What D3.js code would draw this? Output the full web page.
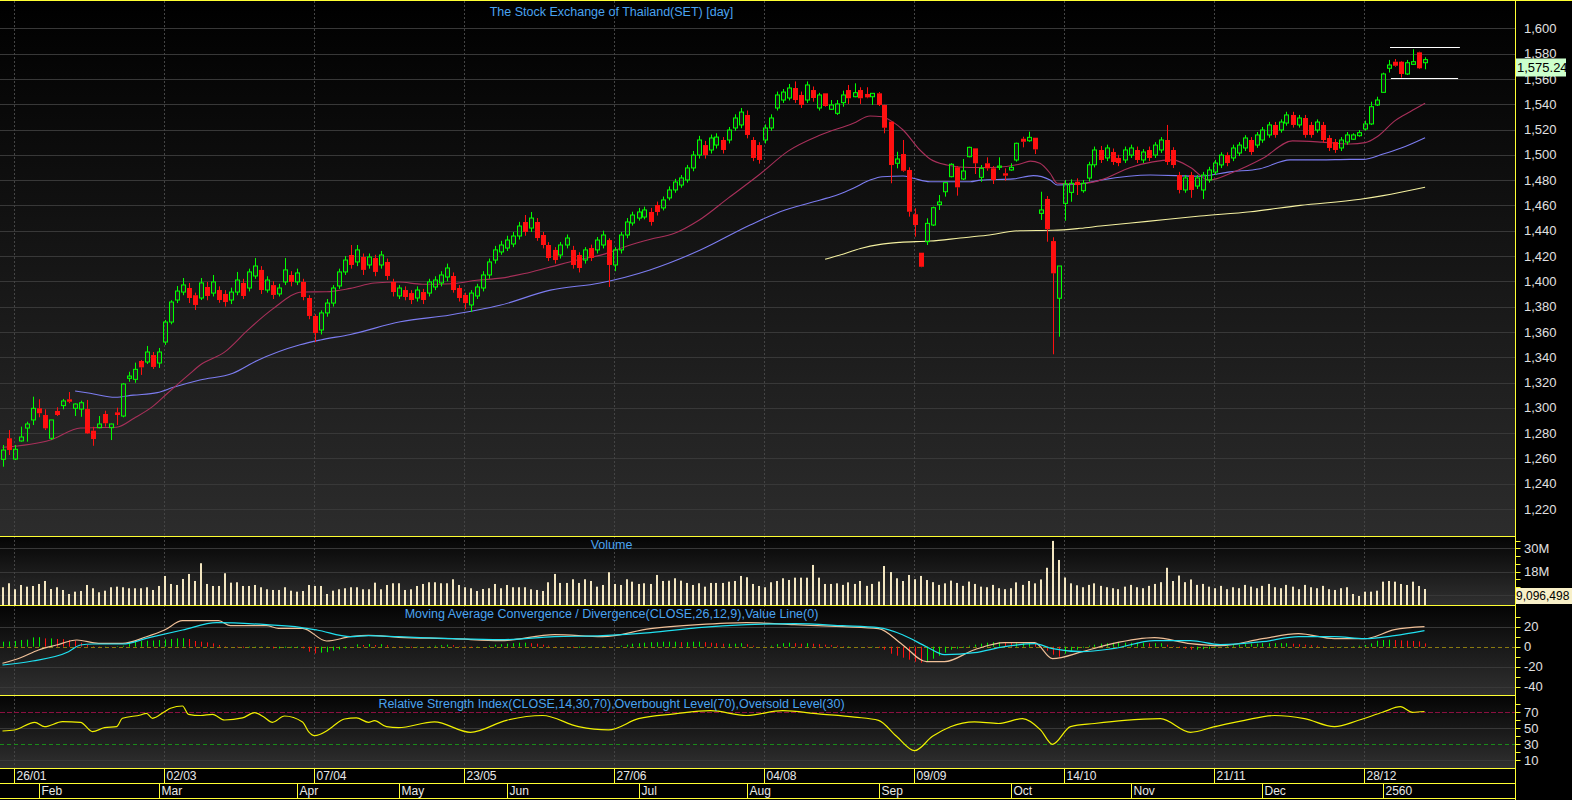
<!DOCTYPE html>
<html><head><meta charset="utf-8">
<script src="https://cdn.jsdelivr.net/npm/d3@7/dist/d3.min.js"></script>
<style>
html,body{margin:0;padding:0;background:#000;overflow:hidden}
svg{display:block}
</style></head><body>
<svg id="chart" width="1572" height="800"></svg>
<script>
// ---------------- DATA ----------------
const dayTickIdx = [2,27,52,77,102,127,152,177,202,227];
const dayTickLabels = ["26/01","02/03","07/04","23/05","27/06","04/08","09/09","14/10","21/11","28/12"];
const monthIdx = [6,26,49,66,84,106,124,146,168,188,210,230];
const monthLabels = ["Feb","Mar","Apr","May","Jun","Jul","Aug","Sep","Oct","Nov","Dec","2560"];
const priceTicks = [1220,1240,1260,1280,1300,1320,1340,1360,1380,1400,1420,1440,1460,1480,1500,1520,1540,1560,1580,1600];
const volTicks = [30,18];
const macdTicks = [20,0,-20,-40];
const rsiTicks = [70,50,30,10];

// daily OHLC (one row per trading day: open, high, low, close)
const ohlc = [
[1259.3,1270.6,1253.4,1266.6],[1275.9,1282.4,1262.7,1266.6],[1259.5,1270.6,1258.7,1267.2],[1273.8,1285.1,1273.2,1276.9],
[1284.0,1289.0,1273.2,1287.2],[1290.4,1308.8,1286.4,1299.6],[1299.6,1306.7,1292.5,1295.7],[1294.3,1298.8,1282.4,1283.8],
[1275.9,1290.4,1274.5,1290.4],[1297.5,1300.4,1293.5,1294.3],[1301.7,1307.0,1298.8,1305.4],[1306.7,1312.5,1303.6,1304.8],
[1299.6,1303.5,1293.5,1303.0],[1299.0,1305.6,1292.9,1304.0],[1299.0,1306.2,1279.3,1279.8],[1281.9,1285.0,1270.0,1275.3],
[1284.3,1293.5,1283.8,1287.2],[1295.1,1297.7,1285.1,1287.8],[1284.3,1287.5,1274.5,1287.2],[1296.4,1300.1,1286.4,1294.3],
[1293.5,1319.6,1292.5,1318.8],[1323.3,1328.5,1320.6,1325.1],[1322.5,1335.7,1319.8,1330.4],[1337.0,1337.8,1326.0,1332.0],
[1336.2,1348.9,1334.6,1344.1],[1341.7,1344.1,1330.7,1332.3],[1335.4,1347.3,1331.5,1344.1],[1352.0,1369.4,1349.7,1367.8],
[1367.8,1385.0,1366.0,1383.6],[1385.2,1396.3,1382.8,1392.3],[1391.5,1402.6,1389.0,1397.1],[1394.7,1398.7,1382.8,1386.8],
[1389.0,1391.0,1377.3,1381.3],[1386.8,1402.6,1385.2,1398.7],[1395.5,1399.5,1385.0,1388.4],[1390.7,1405.0,1388.0,1399.5],
[1393.1,1396.0,1383.0,1385.2],[1390.0,1393.0,1380.0,1383.6],[1385.2,1395.0,1382.0,1391.5],[1391.5,1407.4,1389.0,1401.0],
[1398.7,1402.0,1386.0,1388.4],[1394.7,1410.0,1392.0,1407.4],[1404.2,1418.4,1402.0,1412.1],[1409.0,1412.0,1390.0,1393.1],
[1393.1,1404.0,1391.0,1401.0],[1397.0,1400.0,1386.0,1389.2],[1390.0,1398.0,1388.0,1394.7],[1399.5,1418.4,1397.0,1409.0],
[1405.0,1408.0,1396.0,1399.5],[1399.5,1410.0,1397.0,1406.6],[1399.5,1402.0,1385.0,1387.6],[1386.8,1389.0,1370.0,1372.6],
[1372.6,1374.0,1352.0,1359.1],[1361.5,1377.0,1358.0,1375.0],[1375.0,1386.0,1372.0,1382.8],[1382.8,1397.0,1380.0,1394.7],
[1396.3,1410.0,1394.0,1407.4],[1407.4,1420.0,1405.0,1416.8],[1420.8,1428.7,1410.0,1412.9],[1415.3,1428.7,1412.0,1424.8],
[1419.2,1422.0,1405.0,1409.0],[1412.9,1422.0,1410.0,1419.2],[1418.4,1421.0,1404.0,1407.4],[1412.9,1424.0,1410.0,1420.8],
[1415.3,1418.0,1401.0,1404.2],[1399.5,1402.0,1388.0,1391.5],[1388.4,1397.0,1386.0,1394.7],[1393.1,1396.0,1385.0,1387.6],
[1390.7,1393.0,1382.0,1385.2],[1386.8,1396.0,1384.0,1393.1],[1391.5,1394.0,1382.0,1385.2],[1390.7,1402.0,1388.0,1399.5],
[1395.5,1404.0,1393.0,1401.0],[1398.7,1408.0,1396.0,1405.0],[1403.4,1414.0,1400.0,1410.5],[1404.2,1407.0,1391.0,1393.1],
[1394.7,1397.0,1384.0,1386.8],[1389.2,1391.0,1378.0,1382.8],[1381.3,1393.0,1375.7,1390.7],[1388.4,1398.0,1386.0,1395.5],
[1394.7,1408.0,1392.0,1405.0],[1405.0,1418.0,1402.0,1415.3],[1416.8,1428.0,1414.0,1424.8],[1423.2,1432.0,1421.0,1428.7],
[1426.3,1436.0,1424.0,1432.6],[1429.5,1439.0,1427.0,1435.8],[1435.8,1447.0,1433.0,1443.7],[1446.9,1452.4,1436.0,1439.0],
[1442.1,1454.8,1439.0,1450.0],[1446.9,1450.0,1432.0,1434.2],[1436.6,1439.0,1426.0,1428.7],[1428.7,1431.0,1416.0,1418.4],
[1424.8,1427.0,1414.0,1416.8],[1420.8,1431.0,1418.0,1428.7],[1428.7,1437.0,1426.0,1434.2],[1424.8,1428.0,1410.0,1412.9],
[1420.8,1423.0,1407.0,1410.5],[1416.8,1427.0,1414.0,1424.8],[1426.3,1429.0,1416.0,1418.4],[1424.8,1435.0,1422.0,1432.6],
[1428.7,1440.0,1426.0,1436.6],[1432.6,1434.0,1395.5,1412.9],[1412.9,1427.0,1408.0,1424.8],[1424.8,1439.0,1422.0,1436.6],
[1436.6,1450.0,1434.0,1446.9],[1446.1,1455.0,1444.0,1452.4],[1450.0,1458.0,1448.0,1454.8],[1450.8,1459.0,1449.0,1456.4],
[1454.8,1458.0,1444.0,1446.9],[1460.3,1463.0,1452.0,1454.8],[1458.0,1467.0,1456.0,1464.3],[1465.9,1475.0,1464.0,1472.2],
[1472.2,1481.0,1470.0,1478.5],[1476.1,1484.0,1474.0,1481.7],[1480.1,1492.0,1478.0,1489.6],[1489.6,1503.0,1487.0,1499.8],
[1499.8,1515.0,1497.0,1511.7],[1507.7,1511.0,1497.0,1499.8],[1503.8,1516.0,1501.0,1513.3],[1507.7,1517.0,1505.0,1514.0],
[1511.7,1514.0,1501.0,1503.8],[1511.7,1522.0,1509.0,1519.6],[1521.2,1532.0,1519.0,1529.1],[1523.6,1537.0,1521.0,1533.8],
[1531.5,1535.0,1513.0,1515.7],[1511.7,1514.0,1495.0,1497.5],[1507.7,1510.0,1493.0,1495.9],[1511.7,1524.0,1509.0,1521.2],
[1521.2,1532.0,1519.0,1529.1],[1537.0,1550.0,1535.0,1547.3],[1543.3,1552.0,1541.0,1549.6],[1544.9,1556.0,1543.0,1552.8],
[1552.8,1558.0,1541.0,1543.3],[1547.3,1550.0,1537.0,1539.4],[1543.3,1558.0,1541.0,1555.2],[1551.2,1554.0,1542.0,1544.9],
[1537.0,1549.0,1535.0,1547.3],[1548.6,1548.6,1538.0,1538.6],[1536.0,1543.3,1535.4,1539.4],[1532.8,1543.3,1531.5,1540.2],
[1541.2,1550.7,1538.0,1547.3],[1551.2,1555.2,1540.2,1544.7],[1545.9,1556.5,1545.5,1549.1],[1551.2,1553.4,1540.2,1544.7],
[1548.1,1553.4,1544.7,1545.4],[1545.9,1548.8,1539.4,1548.6],[1548.6,1549.6,1538.6,1539.4],[1539.4,1539.6,1517.0,1521.4],
[1526.2,1526.4,1477.5,1491.9],[1493.3,1502.4,1489.3,1496.7],[1500.6,1511.7,1486.6,1487.4],[1488.0,1490.1,1451.1,1455.0],
[1453.0,1457.7,1435.3,1444.5],[1422.6,1422.6,1411.1,1411.5],[1431.3,1449.8,1428.7,1445.8],[1444.5,1459.0,1443.7,1458.2],
[1460.6,1468.2,1456.4,1462.7],[1470.8,1478.2,1466.9,1478.0],[1482.7,1493.3,1482.2,1492.5],[1490.1,1491.1,1467.7,1474.3],
[1480.9,1496.7,1480.1,1487.2],[1498.5,1506.4,1498.0,1505.9],[1505.1,1505.1,1484.8,1493.3],[1482.2,1491.9,1478.7,1489.3],
[1493.3,1498.0,1487.4,1489.3],[1489.3,1491.1,1476.9,1480.1],[1490.1,1498.0,1488.0,1491.1],[1485.4,1489.3,1479.5,1483.5],
[1488.0,1493.3,1487.4,1490.1],[1495.9,1509.6,1494.6,1509.1],[1512.7,1514.3,1505.9,1510.3],[1511.1,1518.3,1510.3,1513.8],
[1513.5,1513.5,1500.6,1504.3],[1453.7,1470.8,1448.5,1456.4],[1465.1,1467.4,1431.3,1441.3],[1431.8,1434.8,1342.3,1406.3],
[1386.6,1412.1,1356.2,1412.1],[1461.6,1480.1,1447.9,1476.9],[1470.3,1480.6,1462.9,1477.5],[1478.7,1481.4,1468.2,1476.1],
[1471.6,1480.1,1470.0,1477.5],[1481.6,1494.5,1479.0,1492.1],[1492.1,1506.5,1490.0,1503.8],[1503.8,1507.0,1493.5,1495.9],
[1497.5,1508.0,1495.0,1505.4],[1502.2,1505.0,1492.0,1494.3],[1497.5,1500.0,1491.0,1493.5],[1495.9,1506.5,1493.5,1503.8],
[1499.8,1508.0,1497.5,1505.4],[1503.8,1506.5,1493.5,1495.9],[1495.9,1504.5,1493.5,1502.2],[1503.8,1506.5,1495.0,1497.5],
[1499.8,1510.0,1497.5,1507.7],[1503.8,1514.0,1501.5,1511.7],[1511.7,1523.6,1492.0,1494.3],[1503.8,1506.0,1489.5,1491.9],
[1484.0,1486.5,1469.5,1472.2],[1472.2,1484.0,1470.0,1481.7],[1484.0,1486.5,1466.0,1472.2],[1475.3,1484.0,1473.0,1481.7],
[1472.2,1486.5,1465.0,1484.0],[1480.1,1490.5,1478.0,1488.0],[1486.4,1496.0,1484.0,1493.5],[1492.0,1502.0,1489.5,1499.8],
[1499.8,1502.0,1491.0,1493.5],[1497.5,1508.0,1495.0,1505.4],[1501.4,1510.0,1499.0,1507.7],[1505.4,1515.5,1503.0,1513.3],
[1511.7,1514.0,1500.0,1502.2],[1507.7,1518.0,1505.5,1515.7],[1511.7,1522.0,1509.5,1519.6],[1515.7,1526.0,1513.5,1523.6],
[1523.6,1526.0,1513.5,1515.7],[1519.6,1528.0,1517.5,1525.9],[1525.1,1534.0,1523.0,1531.5],[1531.5,1534.0,1521.5,1523.6],
[1523.6,1531.5,1521.5,1529.1],[1529.1,1531.5,1513.5,1515.7],[1523.6,1526.0,1513.5,1515.7],[1519.6,1528.0,1517.5,1525.9],
[1523.6,1526.0,1509.5,1511.7],[1513.3,1515.5,1503.0,1505.4],[1510.1,1512.5,1501.5,1503.8],[1505.4,1514.0,1503.0,1511.7],
[1510.1,1518.0,1508.0,1515.7],[1512.3,1517.0,1511.7,1515.7],[1515.1,1519.6,1514.3,1517.5],[1520.4,1527.0,1519.1,1524.4],
[1524.4,1542.0,1523.6,1538.0],[1539.4,1545.9,1538.6,1543.3],[1549.4,1564.9,1549.1,1563.9],[1568.4,1575.0,1565.0,1571.0],
[1573.6,1575.7,1569.6,1570.4],[1573.6,1574.2,1561.0,1563.9],[1563.9,1575.0,1563.1,1572.8],[1571.5,1583.4,1571.0,1573.6],
[1581.0,1581.5,1567.8,1568.4],[1572.8,1577.1,1567.6,1575.24]
];

// volume, millions of shares
const volumes = [
9.98,12.04,8.95,11.16,10.29,10.65,11.68,13.22,9.1,9.98,8.59,6.53,7.72,8.08,11.16,9.47,7.41,8.23,9.98,10.29,
9.98,9.47,9.47,9.47,9.98,8.59,10.65,15.79,11.68,11.16,14.25,16.82,13.22,22.33,11.68,10.65,10.65,17.18,12.35,12.55,
10.65,10.65,11.16,9.98,8.95,8.59,8.59,9.98,8.23,7.72,8.08,11.16,10.65,10.65,6.53,8.23,8.95,9.47,9.98,9.98,
8.95,8.95,12.35,8.95,11.16,12.04,12.04,
8.59,8.95,10.65,11.68,12.55,12.55,12.04,12.04,14.09,11.16,9.98,9.47,8.08,9.1,9.47,11.68,9.47,11.16,9.98,9.98,
9.98,8.95,8.59,8.08,12.55,16.82,12.2,12.2,14.09,12.2,14.09,13.22,10.29,11.16,17.7,11.68,11.16,14.09,12.86,11.68,
12.04,11.68,16.31,13.22,13.37,14.6,13.37,12.2,11.16,12.04,10.29,12.2,12.2,12.2,12.86,13.22,15.79,15.12,11.68,10.65,
9.98,12.55,13.22,14.6,13.73,14.92,14.92,14.92,21.45,14.92,11.68,11.68,
12.0,11.2,12.5,11.7,13.2,10.7,11.7,12.9,20.9,17.8,14.6,13.2,16.3,14.1,15.8,13.7,12.6,11.2,12.0,13.4,
12.2,10.7,12.9,11.7,10.3,10.0,11.2,9.5,9.0,9.5,12.5,11.2,13.2,12.0,14.0,20.0,33.8,24.0,15.0,12.0,
11.0,10.0,11.2,12.0,10.7,10.0,9.5,9.0,10.3,11.2,10.0,9.5,10.7,11.7,12.6,20.0,13.2,16.0,12.6,14.0,
11.2,11.7,10.3,9.5,10.7,9.0,10.0,9.5,11.2,10.3,9.5,10.7,11.7,10.0,9.5,11.2,10.3,9.0,11.2,10.0,
9.5,10.7,9.0,8.6,9.5,10.0,
6.53,5.5,7.72,7.72,8.23,12.86,13.22,12.86,11.68,11.16,12.86,10.65,9.096
];
const lastPrice = 1575.24;
const lastVolume = "9,096,498";

// moving averages: [day index, value]
const ma25 = [[0,1268.8],[8,1274.6],[13,1284],[16,1284.3],[19,1284.6],[22,1292],[25,1300.9],[27.5,1311.5],[31,1326],[33,1334],[37,1344],[41,1362],[45,1378],[50,1391.6],[54,1391.7],[58,1394.4],[62,1398.6],[66,1399.4],[70,1397.7],[75,1398.1],[79,1400.8],[83,1402.5],[87,1406.1],[91,1410.9],[96,1417],[100,1421.1],[104,1427.7],[108,1433.2],[112,1437.9],[116,1448],[121,1465.9],[126,1483.8],[131,1503.1],[136.3,1515.6],[141.8,1524.9],[144.6,1530.7],[146.6,1530.1],[148.3,1526.2],[150.1,1519.6],[152.9,1503.8],[154.6,1496.7],[157.4,1492],[161.3,1490],[165.1,1490],[169.6,1492.7],[171.3,1495],[172.9,1493.3],[174.6,1485.4],[175.8,1477.5],[179.6,1477],[183,1480],[188,1490],[195,1496],[198,1490],[201,1480],[205,1486],[210,1497],[215,1511],[220,1510],[224.6,1508.5],[227.1,1509.6],[229.1,1514.3],[232.1,1527],[234.6,1534],[237.1,1540.7]];
const ma75 = [[12.1,1313.3],[14.6,1311.5],[18.8,1308.3],[21.8,1310],[25.8,1312],[28.5,1316.2],[32.9,1322],[38.4,1327.3],[42.4,1337.2],[49.6,1349.8],[53,1353.6],[58,1358],[66.3,1368],[74.6,1373.4],[82.9,1381],[91.3,1393],[99.6,1398.7],[107.9,1409],[116.3,1424.7],[124.6,1444.5],[129.6,1455],[136.3,1464.3],[139.1,1468.2],[141.8,1473.5],[144.6,1480],[146.6,1482.7],[150.1,1483.2],[151.8,1481.4],[154.6,1478.7],[161.3,1478.7],[163,1480],[168.5,1481],[171.8,1483.5],[174.6,1480],[175.8,1476.1],[179.6,1477],[183,1480],[191.3,1484],[199.6,1483],[204.6,1486.5],[209.6,1489],[214.6,1496],[219.6,1496],[224.6,1496.4],[226.8,1496.4],[230.1,1500.6],[233,1505.1],[237.1,1513.5]];
const ma200 = [[137.1,1417.4],[139.6,1420.8],[143,1426],[146.3,1429.2],[149.6,1430.8],[154.6,1431.8],[159.6,1434.2],[164.1,1436.4],[169.6,1440],[175.1,1440.3],[179.6,1441.9],[183,1443.7],[190.8,1447.4],[199.6,1451.6],[208,1455],[216.3,1460],[226.3,1464.8],[230.1,1467.7],[237.1,1474.3]];

const macdLine = [[0,-16.6],[3,-11],[6,-3.3],[9,1.7],[12.4,6.7],[16,3.4],[20,3.4],[24,10],[27,16.7],[30,26],[36,26],[38,21],[44,21],[46,18.4],[50,18.4],[54,5.7],[58,10],[61,11.4],[66,9.4],[75,8],[83,6],[92,12],[100,10],[108,18],[116,22],[124,24],[132,22],[140,20],[146,18],[150,2],[154,-15],[157,-15],[162,-3],[167,4],[172,4],[175,-12],[180,-5],[185,3],[192,9],[198,3],[203,1],[210,8],[216,13],[222,8],[227,8],[232,17],[237,20]];
const signalLine = [[0,-18.3],[5,-14.3],[11,-5],[13,1.7],[15,2.7],[20,2.7],[24.6,9.4],[30,16.7],[35.7,24],[44,22],[49.6,19.4],[52.4,16.7],[58,10],[61,11],[66,10],[75,8],[83,7],[92,10],[100,11],[108,14],[116,19],[124,22],[132,23],[140,21],[146,19],[150,12],[154,0],[157,-8],[162,-6],[167,0],[172,3],[175,-2],[180,-5],[185,-2],[192,6],[198,6],[203,2],[210,5],[216,10],[222,10],[227,8],[232,11],[237,16]];
const macdHist = [
5,5.2,5.7,6.7,7,9.3,9.5, 8.3,8.3,7.7,7.5,6.7,5.7,4,1.7, 0.5,0.3,0.3,0.2,0.5,1,
3.3,5,5.7,6,6.2,6.7,7.3,7.7,8.3,8.5, 7.7,5.7,5,4.3,3.3,1.7, 0.5,0, -0.7,-1,-0.7, -0.5,-0.3,-0.2,
-1.7,-1.7,-1,-1,-1, -1.7,-5,-6.7,-6,-5.5, -4,-2.7,-1.7, 0,2.3, 1.7,2.7,1.7,2.5,1.5,0.3,-0.5,
-0.5,-1,-0.5,0,0.5,1,1.5,2,1.5, 0.5,-0.5,-1,-0.5,0,1,2, 2.5,3,3.5,4,4,3.5,3,2,1,0.5,
0,-0.5,-1,-1,-0.5,-0.5,0,0.5,-0.5, 0,1,2,3,3.5,4,4.5,4.5,5,5,5,4.5,4.5,5,
5,4.5,4,3.5,3,3,3,3.5,2.5,1,0, 0,1,2.5,3.5,4,3.5,3,3.5,3, 2.5,2,1.5,1,0.5,0.5,0,0,-0.5,-0.5,-1,
-3,-7,-9,-11,-13,-15,-16, -15,-12,-9,-6,-3,-2,-1, 1,2,3,4,4.5,4.5,4,3.5, 3.5,3.5,3.5,3,
-1,-4,-8,-10, -7,-5,-3,-1,1,2, 3,3.5,4,4,4,4,4,4,3.5,3.5,3.5, 2,0.5,-1,-2,-3,-3,-2.5,-2,
-1,0,1,1.5,2,2.5,3,3,3.5,3.5,3.5,3.5,3.5, 3,2.5,2,1.5,1,0.5,0,-0.5,-0.5,0,
0.5,1,1.7,3.3,6,6.7,7,6.7,6.3,6,5.7,5.3,3.3
];
const rsiLine = [[0,46.6],[2,47.9],[5.4,57.5],[7,52],[10,58.3],[13,57.5],[15,45.8],[17,50.8],[19,52],[20,62.5],[23,66.6],[24,68.7],[25,62.5],[27,70.8],[28,75],[30,77.9],[31,67.5],[33,66],[35,67.5],[37,60.4],[40,63],[42,69.5],[43.5,64.5],[45,57.5],[47,65.4],[50,58],[51,45.8],[52,40.8],[54,46.6],[55,52],[57,61.6],[59,63],[61,57.5],[62,59.6],[64,52],[66,50.8],[72,58],[78,45],[84,60],[90,66],[96,52],[101,48],[106,62],[112,68],[118,72],[124,66],[130,72],[136,68],[142,64],[146,60],[149,40],[152,22],[155,40],[158,52],[162,58],[166,56],[170,62],[173,48],[175,30],[178,52],[182,56],[187,60],[193,62],[198,45],[202,52],[207,60],[212,66],[217,62],[222,52],[226,60],[230,70],[233,77],[235,70],[237,71]];
const resistLine = [[231.25,1585],[242.9,1585]];
const supportLine = [[231.4,1560.5],[242.6,1560.5]];

// ---------------- LAYOUT ----------------
const PR = 1515.5;
const P = {main:[1,536], vol:[536,605], macd:[605,695], rsi:[695,768]};
const YEL = "#ffff33", BLUE = "#4aa3f0", GRID = "#383838";
const FONT = "'Liberation Sans', Arial, sans-serif";

const svg = d3.select('#chart');
const defs = svg.append('defs');
function grad(id, c0, c1){
  const g = defs.append('linearGradient').attr('id',id).attr('x1',0).attr('y1',0).attr('x2',0).attr('y2',1);
  g.append('stop').attr('offset','0%').attr('stop-color',c0);
  g.append('stop').attr('offset','100%').attr('stop-color',c1);
}
grad('gMain','#000000','#2c2c2c');
grad('gSub','#040404','#303030');
Object.entries(P).forEach(([k,[t,b]])=>{
  defs.append('clipPath').attr('id','clip_'+k).append('rect').attr('x',0).attr('y',t).attr('width',PR).attr('height',b-t);
});

const x = d3.scaleLinear().domain([0,237]).range([2.5, 2.5+6*237]);
const yP = d3.scaleLinear().domain([1220,1600]).range([509,28.3]);
const yV = d3.scaleLinear().domain([0,30]).range([606.7,548.3]);
const yM = d3.scaleLinear().domain([-40,20]).range([686.7,626.7]);
const yR = d3.scaleLinear().domain([10,70]).range([760.3,712.3]);
const px = v => Math.round(v)+0.5;

// backgrounds
svg.append('rect').attr('x',0).attr('y',0).attr('width',1572).attr('height',800).attr('fill','#000');
svg.append('rect').attr('x',0).attr('y',P.main[0]).attr('width',PR).attr('height',P.main[1]-P.main[0]).attr('fill','url(#gMain)');
['vol','macd','rsi'].forEach(k=>{
  svg.append('rect').attr('x',0).attr('y',P[k][0]).attr('width',PR).attr('height',P[k][1]-P[k][0]).attr('fill','url(#gSub)');
});

// grid
const grid = svg.append('g');
priceTicks.forEach(t=>grid.append('line').attr('x1',0).attr('x2',PR).attr('y1',px(yP(t))).attr('y2',px(yP(t))).attr('stroke',GRID));
[6,18,30].forEach(t=>grid.append('line').attr('x1',0).attr('x2',PR).attr('y1',px(yV(t))).attr('y2',px(yV(t))).attr('stroke',GRID));
[20,-20,-40].forEach(t=>grid.append('line').attr('x1',0).attr('x2',PR).attr('y1',px(yM(t))).attr('y2',px(yM(t))).attr('stroke',GRID));
[50,10].forEach(t=>grid.append('line').attr('x1',0).attr('x2',PR).attr('y1',px(yR(t))).attr('y2',px(yR(t))).attr('stroke',GRID));
Object.values(P).forEach(([t,b])=>{
  dayTickIdx.forEach(i=>grid.append('line').attr('x1',px(x(i))-1).attr('x2',px(x(i))-1).attr('y1',t).attr('y2',b)
    .attr('stroke','#444').attr('stroke-dasharray','2,2'));
});
// reference lines
svg.append('line').attr('x1',0).attr('x2',PR).attr('y1',px(yM(0))).attr('y2',px(yM(0))).attr('stroke','#8a7a10').attr('stroke-dasharray','4,3');
svg.append('line').attr('x1',0).attr('x2',PR).attr('y1',px(yR(70))).attr('y2',px(yR(70))).attr('stroke','#8a1040').attr('stroke-dasharray','5,2');
svg.append('line').attr('x1',0).attr('x2',PR).attr('y1',px(yR(30))).attr('y2',px(yR(30))).attr('stroke','#1a8a1a').attr('stroke-dasharray','4,3');

// ---------- main panel ----------
const gm = svg.append('g').attr('clip-path','url(#clip_main)');
const lineGen = (ys) => d3.line().x(d=>x(d[0])).y(d=>ys(d[1])).curve(d3.curveMonotoneX);
gm.append('path').datum(ma200).attr('d',lineGen(yP)).attr('fill','none').attr('stroke','#f4f0a0').attr('stroke-width',1.1);
gm.append('path').datum(ma75).attr('d',lineGen(yP)).attr('fill','none').attr('stroke','#7c7cf0').attr('stroke-width',1.1);
gm.append('path').datum(ma25).attr('d',lineGen(yP)).attr('fill','none').attr('stroke','#a8305a').attr('stroke-width',1.1);

const candles = ohlc.map((r,i)=>({i,o:r[0],h:r[1],l:r[2],c:r[3]}));
gm.selectAll('g.c').data(candles).join('g').attr('class','c').each(function(d){
  const g = d3.select(this);
  const up = d.c >= d.o;
  const col = up ? '#00ff00' : '#ff1010';
  const cx = px(x(d.i));
  const top = yP(Math.max(d.o,d.c)), bot = yP(Math.min(d.o,d.c));
  g.append('line').attr('x1',cx).attr('x2',cx).attr('y1',yP(d.h)).attr('y2',top).attr('stroke',col);
  g.append('line').attr('x1',cx).attr('x2',cx).attr('y1',bot).attr('y2',yP(d.l)).attr('stroke',col);
  const h = Math.max(1,bot-top);
  if(up){
    g.append('rect').attr('x',cx-2).attr('y',top).attr('width',4).attr('height',h).attr('fill','#3a3a3a').attr('fill-opacity',0.35).attr('stroke',col);
  } else {
    g.append('rect').attr('x',cx-2.5).attr('y',top).attr('width',5).attr('height',h).attr('fill',col);
  }
});
[resistLine,supportLine].forEach(l=>gm.append('line').attr('x1',x(l[0][0])).attr('x2',x(l[1][0])).attr('y1',px(yP(l[0][1]))).attr('y2',px(yP(l[1][1]))).attr('stroke','#fff'));

// ---------- volume ----------
const gv = svg.append('g').attr('clip-path','url(#clip_vol)');
gv.selectAll('rect').data(volumes).join('rect')
  .attr('x',(d,i)=>Math.round(x(i))-1).attr('width',2)
  .attr('y',d=>yV(d)).attr('height',d=>yV(0)-yV(d)).attr('fill','#f3e6c0');

// ---------- MACD ----------
const gmc = svg.append('g').attr('clip-path','url(#clip_macd)');
gmc.selectAll('line.h').data(macdHist).join('line').attr('class','h')
  .attr('x1',(d,i)=>px(x(i))).attr('x2',(d,i)=>px(x(i)))
  .attr('y1',yM(0)).attr('y2',d=>yM(d))
  .attr('stroke',(d,i)=> (i===0 || d>=macdHist[i-1]) ? '#00ee00' : '#ff1010');
gmc.append('path').datum(macdLine).attr('d',lineGen(yM)).attr('fill','none').attr('stroke','#f0c098').attr('stroke-width',1.2);
gmc.append('path').datum(signalLine).attr('d',lineGen(yM)).attr('fill','none').attr('stroke','#20e0f0').attr('stroke-width',1.2);

// ---------- RSI ----------
const gr = svg.append('g').attr('clip-path','url(#clip_rsi)');
gr.append('path').datum(rsiLine).attr('d',lineGen(yR)).attr('fill','none').attr('stroke','#f0f000').attr('stroke-width',1.2);

// ---------- frame ----------
svg.append('rect').attr('x',0).attr('y',769).attr('width',PR).attr('height',14).attr('fill','#000');
svg.append('rect').attr('x',0).attr('y',784).attr('width',PR).attr('height',14).attr('fill','#000');
const fr = svg.append('g').attr('stroke',YEL).attr('stroke-width',1);
fr.append('line').attr('x1',0).attr('x2',1572).attr('y1',0.5).attr('y2',0.5);
fr.append('line').attr('x1',PR).attr('x2',PR).attr('y1',0).attr('y2',800);
[536,605,695,768,783,798].forEach(y=>fr.append('line').attr('x1',0).attr('x2',PR).attr('y1',y+0.5).attr('y2',y+0.5));
dayTickIdx.forEach(i=>fr.append('line').attr('x1',px(x(i))-1).attr('x2',px(x(i))-1).attr('y1',768).attr('y2',783));
monthIdx.forEach(i=>fr.append('line').attr('x1',px(x(i))).attr('x2',px(x(i))).attr('y1',783).attr('y2',798));

// minor ticks on sub-panel axes
const tk = svg.append('g').attr('stroke',YEL);
[2,6,10,14,18,22,26,30,34].forEach(t=>tk.append('line').attr('x1',PR).attr('x2',PR+5).attr('y1',px(yV(t))).attr('y2',px(yV(t))));
[30,20,10,0,-10,-20,-30,-40].forEach(t=>tk.append('line').attr('x1',PR).attr('x2',PR+5).attr('y1',px(yM(t))).attr('y2',px(yM(t))));
[80,70,60,50,40,30,20,10].forEach(t=>tk.append('line').attr('x1',PR).attr('x2',PR+5).attr('y1',px(yR(t))).attr('y2',px(yR(t))));

const tx = svg.append('g').attr('font-family',FONT);
dayTickIdx.forEach((i,k)=>tx.append('text').attr('x',px(x(i))+1).attr('y',780).attr('fill','#e8e8e8').attr('font-size',12).text(dayTickLabels[k]));
monthIdx.forEach((i,k)=>tx.append('text').attr('x',px(x(i))+2).attr('y',795).attr('fill','#e8e8e8').attr('font-size',12).text(monthLabels[k]));

// right axis labels
const axisTxt = (y,t)=>tx.append('text').attr('x',1524).attr('y',y).attr('dy','0.36em').attr('fill','#e0e0e0').attr('font-size',13).text(t);
const fmt = d3.format(',');
priceTicks.forEach(t=>axisTxt(yP(t),fmt(t)));
volTicks.forEach(t=>axisTxt(yV(t),t+'M'));
macdTicks.forEach(t=>axisTxt(yM(t),t));
rsiTicks.forEach(t=>axisTxt(yR(t),t));

// value boxes (drawn over the axis labels)
const vb = svg.append('g').attr('font-family',FONT);
const pyTop = Math.round(yP(lastPrice)) - 1.5;
vb.append('rect').attr('x',1516).attr('y',pyTop).attr('width',50).attr('height',18).attr('fill','#ccffcc');
vb.append('text').attr('x',1517).attr('y',pyTop+9).attr('dy','0.36em').attr('fill','#000').attr('font-size',13).text(d3.format(',.2f')(lastPrice));
vb.append('rect').attr('x',1516).attr('y',588).attr('width',56).attr('height',16).attr('fill','#f8f0c8');
vb.append('text').attr('x',1516).attr('y',596).attr('dy','0.36em').attr('fill','#000').attr('font-size',12).text(lastVolume);

// titles
const title = (y,t)=>tx.append('text').attr('x',611.5).attr('y',y).attr('text-anchor','middle').attr('fill',BLUE).attr('font-size',12.5).text(t);
title(16,'The Stock Exchange of Thailand(SET) [day]');
title(549,'Volume');
title(618,'Moving Average Convergence / Divergence(CLOSE,26,12,9),Value Line(0)');
title(708,'Relative Strength Index(CLOSE,14,30,70),Overbought Level(70),Oversold Level(30)');
</script>
</body></html>
